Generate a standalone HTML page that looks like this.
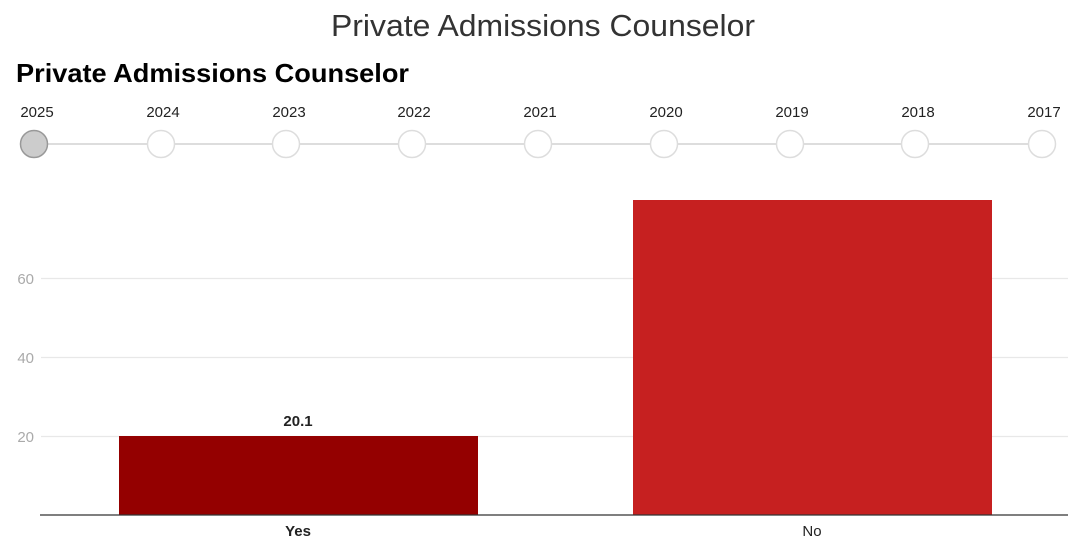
<!DOCTYPE html>
<html><head><meta charset="utf-8"><style>
html,body{margin:0;padding:0;background:#fff;width:1080px;height:548px;overflow:hidden}
svg{display:block;font-family:"Liberation Sans",sans-serif}
</style></head><body>
<svg width="1080" height="548" viewBox="0 0 1080 548">
<text x="331" y="36" textLength="424" lengthAdjust="spacingAndGlyphs" font-size="31" fill="#333">Private Admissions Counselor</text>
<text x="16" y="82" textLength="393" lengthAdjust="spacingAndGlyphs" font-size="26" font-weight="bold" fill="#000">Private Admissions Counselor</text>
<line x1="34" y1="144" x2="1042" y2="144" stroke="#ddd" stroke-width="2"/>
<g font-size="15" fill="#222" text-anchor="middle">
<text x="37" y="117">2025</text><text x="163" y="117">2024</text><text x="289" y="117">2023</text>
<text x="414" y="117">2022</text><text x="540" y="117">2021</text><text x="666" y="117">2020</text>
<text x="792" y="117">2019</text><text x="918" y="117">2018</text><text x="1044" y="117">2017</text>
</g>
<circle cx="34" cy="144" r="13.5" fill="#ccc" stroke="#999" stroke-width="1.5"/>
<g fill="#fff" stroke="#ddd" stroke-width="1.5">
<circle cx="161" cy="144" r="13.5"/><circle cx="286" cy="144" r="13.5"/><circle cx="412" cy="144" r="13.5"/>
<circle cx="538" cy="144" r="13.5"/><circle cx="664" cy="144" r="13.5"/><circle cx="790" cy="144" r="13.5"/>
<circle cx="915" cy="144" r="13.5"/><circle cx="1042" cy="144" r="13.5"/>
</g>
<g stroke="#e8e8e8" stroke-width="1.2">
<line x1="41" y1="278.5" x2="1068" y2="278.5"/><line x1="41" y1="357.5" x2="1068" y2="357.5"/><line x1="41" y1="436.5" x2="1068" y2="436.5"/>
</g>
<g font-size="15" fill="#aaa" text-anchor="end">
<text x="34" y="284">60</text><text x="34" y="363">40</text><text x="34" y="442">20</text>
</g>
<rect x="119" y="436" width="359" height="79" fill="#940000"/>
<rect x="633" y="200" width="359" height="315" fill="#c62020"/>
<line x1="40" y1="515" x2="1068" y2="515" stroke="#333" stroke-width="1.2"/>
<text x="298" y="426" text-anchor="middle" font-size="15" font-weight="bold" fill="#222">20.1</text>
<text x="298" y="536" text-anchor="middle" font-size="15" font-weight="bold" fill="#222">Yes</text>
<text x="812" y="536" text-anchor="middle" font-size="15" fill="#222">No</text>
</svg>
</body></html>
